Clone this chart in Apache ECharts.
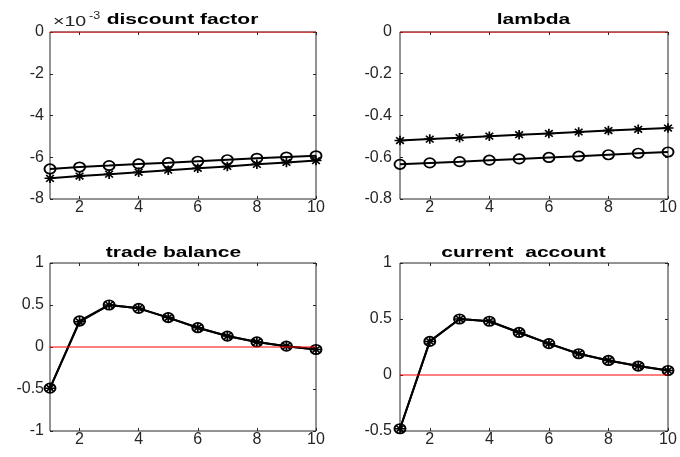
<!DOCTYPE html>
<html>
<head>
<meta charset="utf-8">
<script src="https://cdn.jsdelivr.net/npm/echarts@6/dist/echarts.min.js"></script>
<style>
  html, body { margin: 0; padding: 0; background: #fff; }
  #chart { width: 680px; height: 457px; }
</style>
</head>
<body>
<div id="chart"></div>
<script>
// periods 1..10
var periods = [1, 2, 3, 4, 5, 6, 7, 8, 9, 10]
var xTicks = [2, 4, 6, 8, 10]

var discountCircle = [-6.56e-3, -6.47e-3, -6.40e-3, -6.32e-3, -6.26e-3, -6.19e-3, -6.12e-3, -6.05e-3, -5.99e-3, -5.93e-3]
var discountStar = [-7.01e-3, -6.90e-3, -6.81e-3, -6.72e-3, -6.62e-3, -6.53e-3, -6.44e-3, -6.34e-3, -6.25e-3, -6.16e-3]

// lambda
var lambdaCircle = [-0.634, -0.627, -0.621, -0.614, -0.608, -0.601, -0.595, -0.588, -0.581, -0.575]
var lambdaStar = [-0.520, -0.513, -0.506, -0.499, -0.492, -0.486, -0.479, -0.472, -0.466, -0.460]

// trade balance
var tradeCircle = [-0.49, 0.31, 0.50, 0.46, 0.35, 0.23, 0.13, 0.06, 0.01, -0.03]
var tradeStar = [-0.49, 0.30, 0.50, 0.46, 0.35, 0.23, 0.13, 0.06, 0.01, -0.03]

// current account
var accountCircle = [-0.48, 0.30, 0.50, 0.48, 0.38, 0.28, 0.19, 0.13, 0.08, 0.04]
var accountStar = [-0.48, 0.30, 0.50, 0.48, 0.38, 0.28, 0.19, 0.13, 0.08, 0.04]

// steady-state reference level (red line)
var steadyState = 0

var STAR = 'path://M0,5L10,5M5,0L5,10M1.5,1.5L8.5,8.5M8.5,1.5L1.5,8.5'
var AXIS_COLOR = '#262626'
var FONT = 'Liberation Sans, Arial, sans-serif'
var STRETCH = 1.4 // the source figure was stretched sideways

var panels = [
  { title: 'discount factor', titleX: 182.5, titleY: 12.5, grid: { left: 50, top: 32, width: 266, height: 167 },
    yMin: -0.008, yMax: 0, yStep: 0.002, fmt: function(v) { return String(Math.round(v * 1000)) },
    circle: discountCircle, star: discountStar, labelMargin: 6 },
  { title: 'lambda', titleX: 533.5, titleY: 12.5, grid: { left: 400, top: 32, width: 268, height: 167 },
    yMin: -0.8, yMax: 0, yStep: 0.2, circle: lambdaCircle, star: lambdaStar, labelMargin: 8 },
  { title: 'trade balance', titleX: 173.5, titleY: 245, grid: { left: 50, top: 263, width: 266, height: 168 },
    yMin: -1, yMax: 1, yStep: 0.5, circle: tradeCircle, star: tradeStar, labelMargin: 6 },
  { title: 'current  account', titleX: 523.5, titleY: 245, grid: { left: 400, top: 263, width: 268, height: 168 },
    yMin: -0.5, yMax: 1, yStep: 0.5, circle: accountCircle, star: accountStar, labelMargin: 8 }
]

function toPoints(values) {
  return periods.map(function(p, i) { return [p, values[i]] })
}

var grids = []
var xAxes = []
var yAxes = []
var series = []
var graphics = []

panels.forEach(function(p, k) {
  grids.push(Object.assign({ show: true, borderColor: AXIS_COLOR, borderWidth: 1, backgroundColor: 'transparent' }, p.grid))
  graphics.push({
    type: 'text', x: p.titleX, y: p.titleY, scaleX: STRETCH,
    style: { text: p.title, textAlign: 'center', textVerticalAlign: 'top',
      font: 'bold 15px ' + FONT, fill: '#000' }
  })
  // bottom + top x axes (ticks inside the box)
  ;['bottom', 'top'].forEach(function(pos) {
    xAxes.push({
      type: 'value', gridIndex: k, position: pos, min: 1, max: 10,
      axisLine: { show: false, onZero: false },
      axisTick: { show: true, inside: true, length: 3, customValues: xTicks, lineStyle: { color: AXIS_COLOR } },
      axisLabel: { show: pos === 'bottom', margin: 1, customValues: xTicks, color: AXIS_COLOR, fontFamily: FONT, fontSize: 16 },
      splitLine: { show: false }
    })
  })
  ;['left', 'right'].forEach(function(pos) {
    yAxes.push({
      type: 'value', gridIndex: k, position: pos, min: p.yMin, max: p.yMax, interval: p.yStep,
      axisLine: { show: false, onZero: false },
      axisTick: { show: true, inside: true, length: 3, lineStyle: { color: AXIS_COLOR } },
      axisLabel: { show: pos === 'left', margin: p.labelMargin, color: AXIS_COLOR, fontFamily: FONT, fontSize: 16,
        formatter: p.fmt },
      splitLine: { show: false }
    })
  })
  series.push({
    type: 'line', xAxisIndex: k * 2, yAxisIndex: k * 2, data: toPoints(p.star), z: 2,
    symbol: STAR, symbolSize: [11, 9.5],
    lineStyle: { color: '#000', width: 2 },
    itemStyle: { color: '#000', borderColor: '#000', borderWidth: 1.6 }
  })
  series.push({
    type: 'line', xAxisIndex: k * 2, yAxisIndex: k * 2, data: toPoints(p.circle), z: 3,
    symbol: 'circle', symbolSize: [11, 9.5],
    lineStyle: { color: '#000', width: 2 },
    itemStyle: { color: 'rgba(0,0,0,0)', borderColor: '#000', borderWidth: 1.8 }
  })
  // red steady-state line
  series.push({
    type: 'line', xAxisIndex: k * 2, yAxisIndex: k * 2, z: 4, silent: true,
    data: [[periods[0], steadyState], [periods[periods.length - 1], steadyState]],
    symbol: 'none', color: '#ff0000',
    lineStyle: { color: '#ff0000', width: 1 }
  })
})

// x10^-3 exponent label of the discount factor axis
graphics.push({
  type: 'text', x: 53, y: 15.5, scaleX: STRETCH,
  style: { text: '×10', textVerticalAlign: 'top', font: '14px ' + FONT, fill: AXIS_COLOR }
})
graphics.push({
  type: 'text', x: 89, y: 11.5, scaleX: 1.25,
  style: { text: '-3', textVerticalAlign: 'top', font: '10px ' + FONT, fill: AXIS_COLOR }
})

var chart = echarts.init(document.getElementById('chart'))
chart.setOption({
  animation: false,
  backgroundColor: '#fff',
  grid: grids,
  xAxis: xAxes,
  yAxis: yAxes,
  series: series,
  graphic: graphics
})
</script>
</body>
</html>
